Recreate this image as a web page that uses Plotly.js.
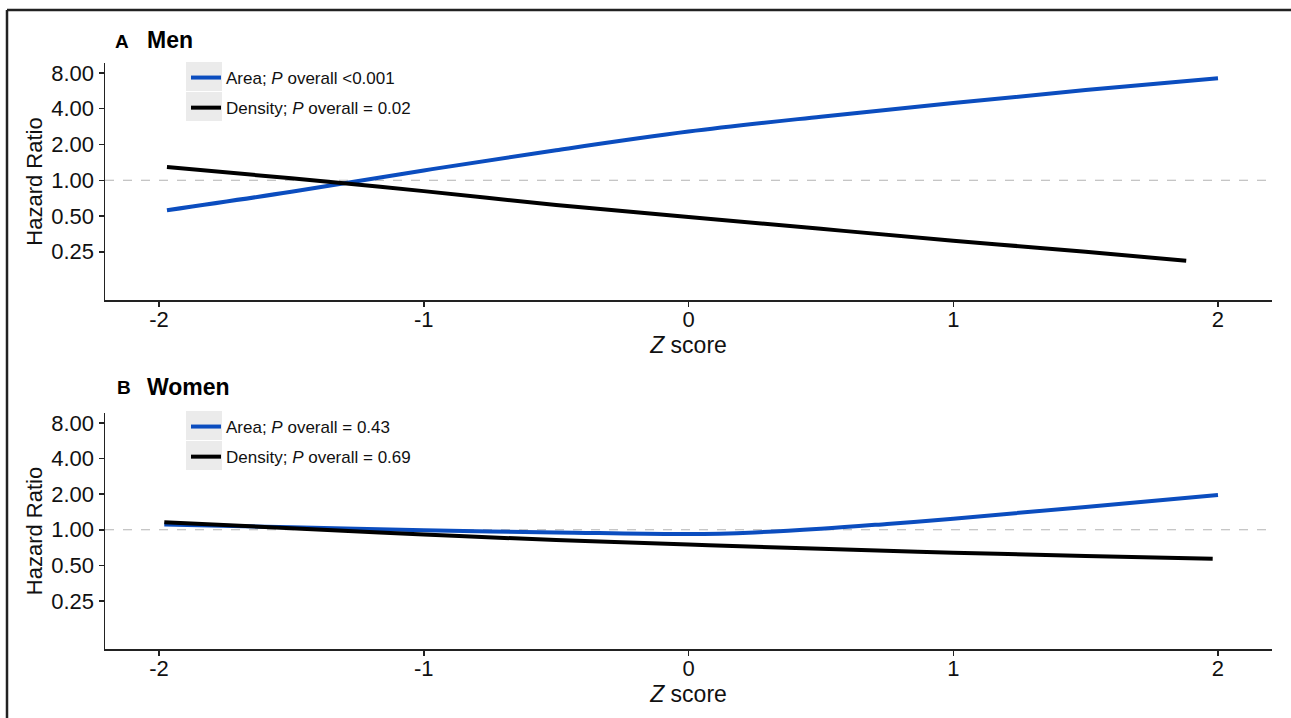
<!DOCTYPE html>
<html>
<head>
<meta charset="utf-8">
<script src="https://cdn.plot.ly/plotly-3.0.1.min.js"></script>
<style>html,body{margin:0;padding:0;background:#fff;}#chart{width:1291px;height:718px;}</style>
</head>
<body>
<div id="chart"></div>
<script>
// ---- Data (Hazard ratio vs Z score) ----
var menAreaZ = [-1.97, -1.5, -1, -0.5, 0, 0.5, 1, 1.5, 2.0];
var menAreaHR = [0.56, 0.80, 1.21, 1.79, 2.57, 3.43, 4.47, 5.74, 7.21];
var menDensZ = [-1.97, -1.5, -1, -0.5, 0, 0.5, 1, 1.5, 1.88];
var menDensHR = [1.29, 1.04, 0.81, 0.62, 0.49, 0.39, 0.31, 0.25, 0.21];
var womenAreaZ = [-1.98, -1.5, -1, -0.5, 0, 0.25, 0.5, 0.75, 1, 1.5, 2.0];
var womenAreaHR = [1.11, 1.05, 0.99, 0.95, 0.92, 0.95, 1.02, 1.12, 1.24, 1.56, 1.97];
var womenDensZ = [-1.98, -1.5, -1, -0.5, 0, 0.5, 1, 1.5, 1.98];
var womenDensHR = [1.16, 1.03, 0.91, 0.82, 0.75, 0.69, 0.64, 0.60, 0.57];

var refZ = [-2.204, 2.204];
var refHR = [1, 1];

var xTickVals = [-2, -1, 0, 1, 2];
var xTickText = ['-2', '-1', '0', '1', '2'];
var yTickVals = [0.25, 0.5, 1, 2, 4, 8];
var yTickText = ['0.25', '0.50', '1.00', '2.00', '4.00', '8.00'];

var menLegend = ['Area; <i>P</i> overall &lt;0.001', 'Density; <i>P</i> overall = 0.02'];
var womenLegend = ['Area; <i>P</i> overall = 0.43', 'Density; <i>P</i> overall = 0.69'];
var panelTitles = [['A', 'Men'], ['B', 'Women']];

// ---- Styling ----
var W = 1291, H = 718;
var FONT = 'Liberation Sans, Arial, sans-serif';
var BLUE = '#0b4dbf';
var BLACK = '#000000';
function px(x) { return x / W; }
function py(y) { return 1 - y / H; }

var traces = [
  {x: refZ, y: refHR, xaxis: 'x', yaxis: 'y', mode: 'lines', line: {color: '#b3b3b3', width: 1, dash: 'dash'}, showlegend: false, hoverinfo: 'skip'},
  {x: menAreaZ, y: menAreaHR, xaxis: 'x', yaxis: 'y', mode: 'lines', line: {color: BLUE, width: 4, shape: 'spline'}, name: menLegend[0], legend: 'legend', legendgroup: 'a1'},
  {x: menDensZ, y: menDensHR, xaxis: 'x', yaxis: 'y', mode: 'lines', line: {color: BLACK, width: 4, shape: 'spline'}, name: menLegend[1], legend: 'legend', legendgroup: 'a2'},
  {x: refZ, y: refHR, xaxis: 'x2', yaxis: 'y2', mode: 'lines', line: {color: '#b3b3b3', width: 1, dash: 'dash'}, showlegend: false, hoverinfo: 'skip'},
  {x: womenAreaZ, y: womenAreaHR, xaxis: 'x2', yaxis: 'y2', mode: 'lines', line: {color: BLUE, width: 4, shape: 'spline', smoothing: 1.1}, name: womenLegend[0], legend: 'legend2', legendgroup: 'b1'},
  {x: womenDensZ, y: womenDensHR, xaxis: 'x2', yaxis: 'y2', mode: 'lines', line: {color: BLACK, width: 4, shape: 'spline'}, name: womenLegend[1], legend: 'legend2', legendgroup: 'b2'}
];

function xAxis(anchor) {
  return {
    domain: [px(105), px(1272)], anchor: anchor,
    range: [-2.204, 2.204], tickmode: 'array', tickvals: xTickVals, ticktext: xTickText,
    showgrid: false, zeroline: false, showline: true, linecolor: '#222', linewidth: 1.5,
    ticks: 'outside', ticklen: 5, tickwidth: 1.5, tickcolor: '#222',
    ticklabelstandoff: -6,
    tickfont: {family: FONT, size: 22, color: '#111'},
    title: {text: '<i>Z</i> score', font: {family: FONT, size: 23, color: '#111'}, standoff: 0},
    fixedrange: true
  };
}
function yAxis(dom, anchor) {
  return {
    domain: dom, anchor: anchor, type: 'log',
    range: [-1.008, 0.987], tickmode: 'array', tickvals: yTickVals, ticktext: yTickText,
    showgrid: false, zeroline: false, showline: true, linecolor: '#222', linewidth: 1.5,
    ticks: 'outside', ticklen: 5, tickwidth: 1.5, tickcolor: '#222',
    tickfont: {family: FONT, size: 22, color: '#111'},
    title: {text: 'Hazard Ratio', font: {family: FONT, size: 22, color: '#111'}, standoff: 2},
    fixedrange: true
  };
}

var legendBase = {
  xanchor: 'left', yanchor: 'top', bgcolor: 'rgba(0,0,0,0)', borderwidth: 0,
  font: {family: FONT, size: 17, color: '#111'}, tracegroupgap: 5, traceorder: 'grouped'
};

var annotations = [];
var titleY = [41, 388];
panelTitles.forEach(function (t, i) {
  annotations.push({xref: 'paper', yref: 'paper', x: px(i === 0 ? 113 : 115), y: py(titleY[i]), xanchor: 'left', yanchor: 'middle',
    text: '<b>' + t[0] + '</b>', showarrow: false, font: {family: FONT, size: 19, color: '#000'}});
  annotations.push({xref: 'paper', yref: 'paper', x: px(145), y: py(titleY[i] - 1), xanchor: 'left', yanchor: 'middle',
    text: '<b>' + t[1] + '</b>', showarrow: false, font: {family: FONT, size: 23, color: '#000'}});
});

var shapes = [
  {type: 'line', xref: 'paper', yref: 'paper', x0: px(7), x1: px(7), y0: 0, y1: py(10), line: {color: '#222', width: 2.5}},
  {type: 'line', xref: 'paper', yref: 'paper', x0: px(7), x1: 1, y0: py(10), y1: py(10), line: {color: '#222', width: 2.5}}
];
var keyBoxes = [[62, 91], [92, 121], [411, 440], [441, 470]];
keyBoxes.forEach(function (b) {
  shapes.push({type: 'rect', xref: 'paper', yref: 'paper', layer: 'below', x0: px(186), x1: px(222), y0: py(b[1]), y1: py(b[0]), line: {width: 0}, fillcolor: '#ebebeb'});
});

var layout = {
  width: W, height: H,
  margin: {l: 0, r: 0, t: 0, b: 0},
  paper_bgcolor: '#ffffff', plot_bgcolor: 'rgba(0,0,0,0)',
  showlegend: true,
  xaxis: xAxis('y'),
  yaxis: yAxis([py(300), py(63)], 'x'),
  xaxis2: xAxis('y2'),
  yaxis2: yAxis([py(649), py(413)], 'x2'),
  legend: Object.assign({}, legendBase, {x: px(186), y: py(60)}),
  legend2: Object.assign({}, legendBase, {x: px(186), y: py(409)}),
  annotations: annotations,
  shapes: shapes
};

Plotly.newPlot('chart', traces, layout, {displayModeBar: false, staticPlot: true});
</script>
</body>
</html>
